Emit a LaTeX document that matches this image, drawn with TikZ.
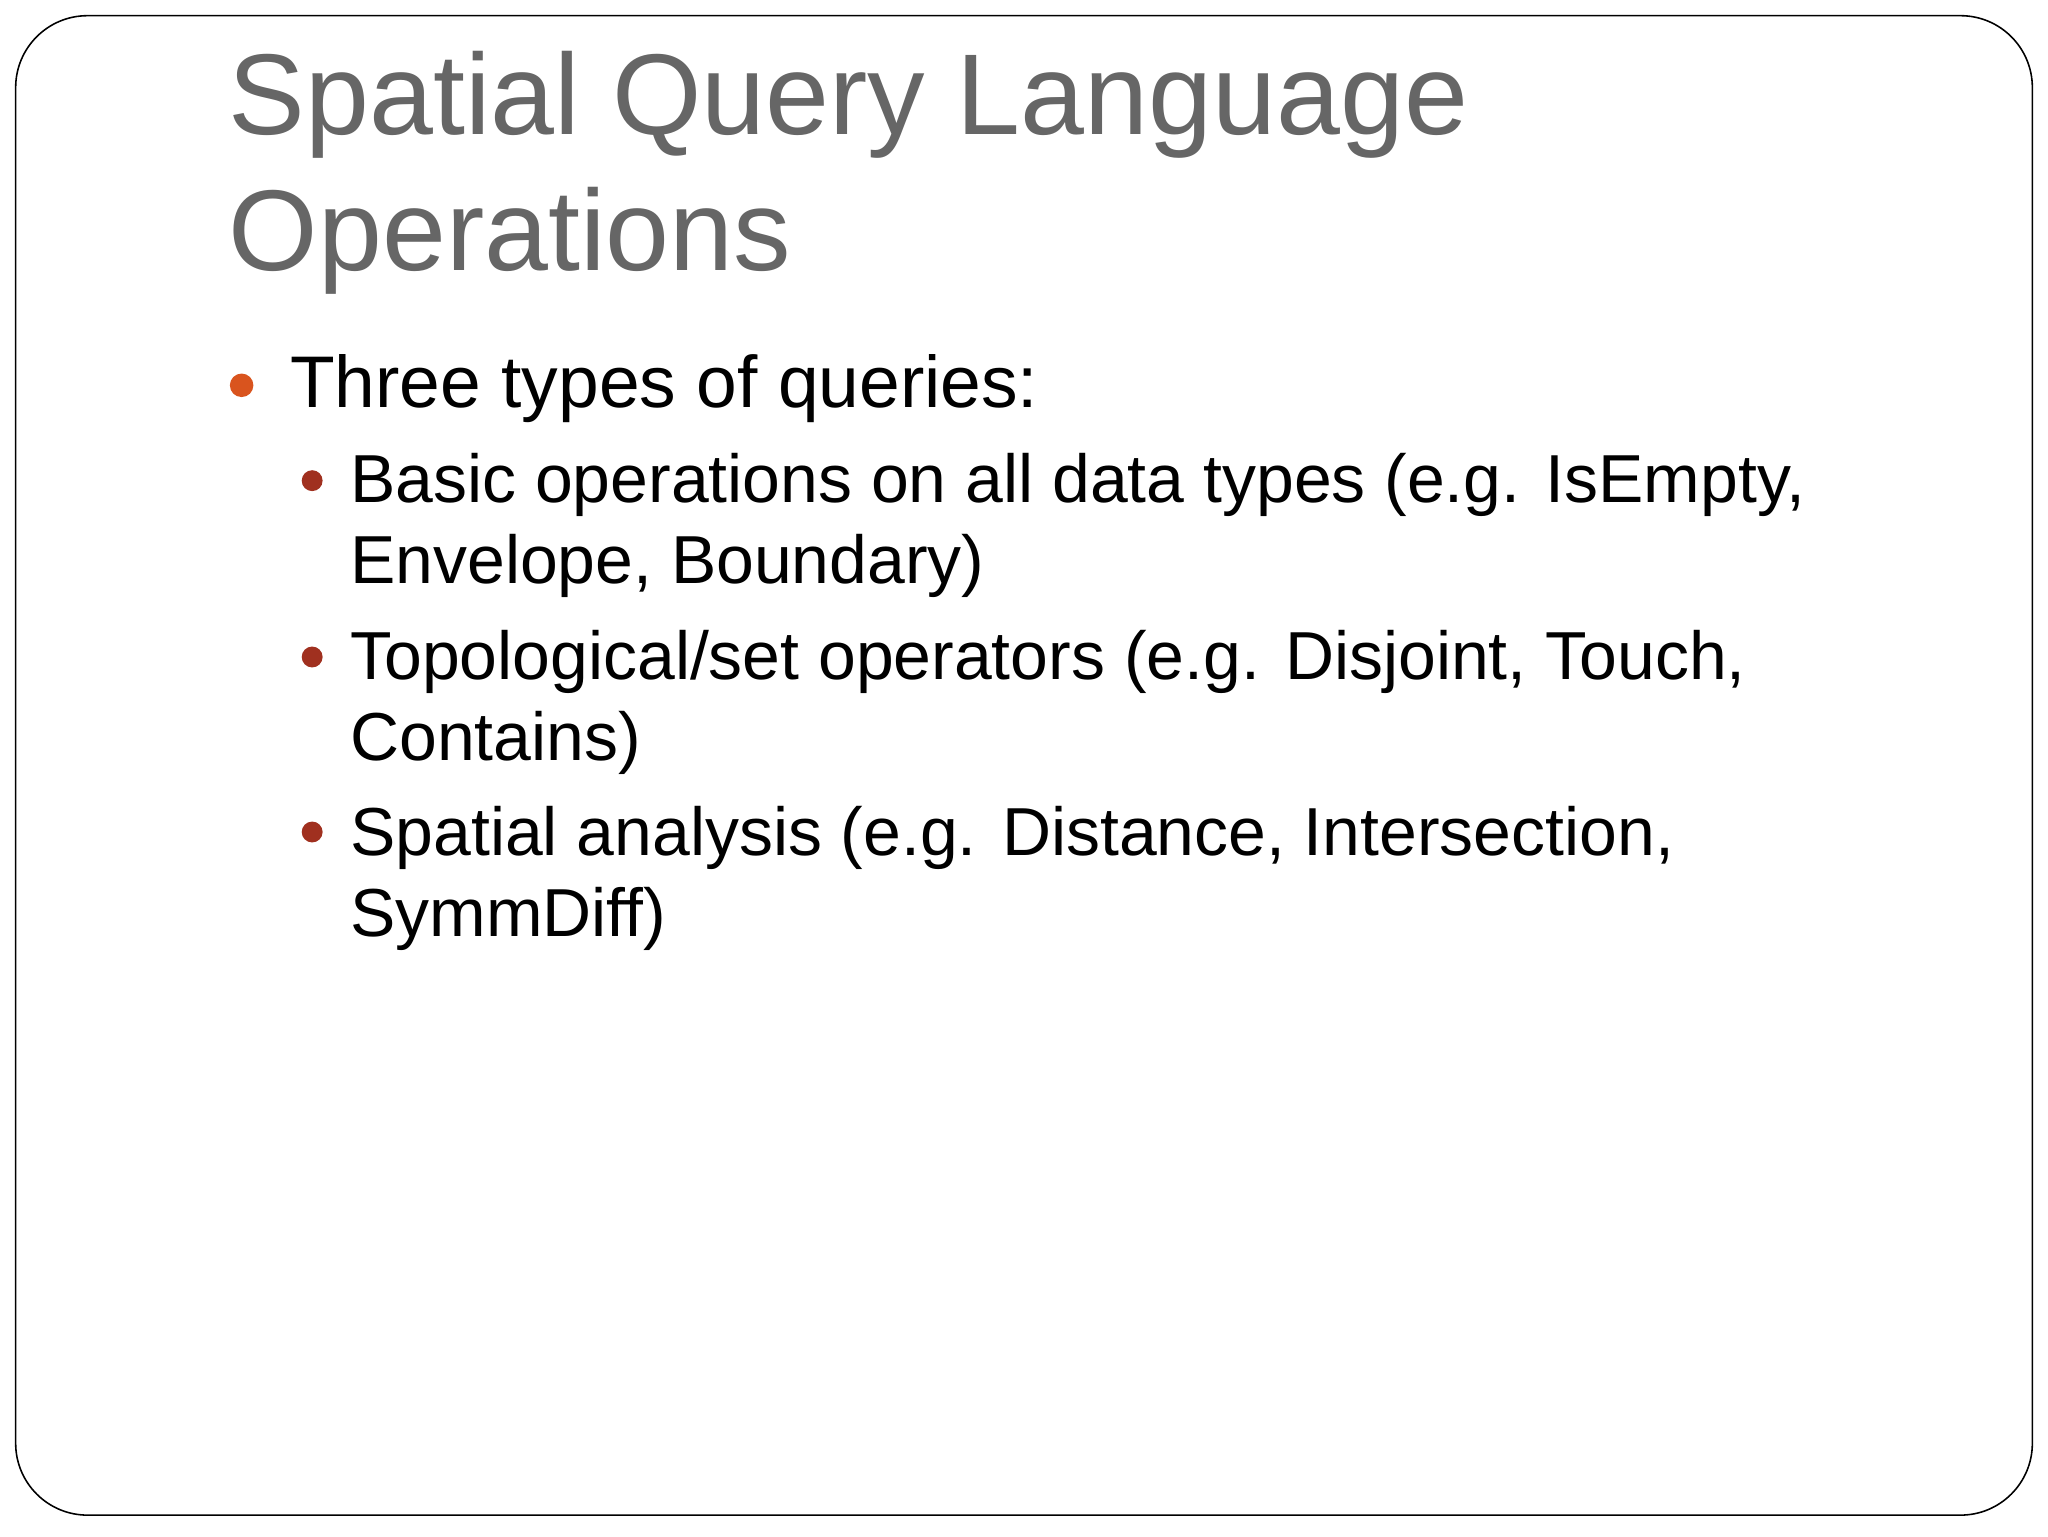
\documentclass[tikz,border=0pt]{standalone}
\usepackage{fontspec}
\setmainfont{Liberation Sans}
\definecolor{titlegray}{HTML}{666666}
\definecolor{bulA}{HTML}{D9541E}
\definecolor{bulB}{HTML}{A0301F}
\begin{document}
\begin{tikzpicture}[x=1pt,y=-1pt,
  title/.style={anchor=base west,inner sep=0,text=titlegray,font=\fontsize{88}{88}\selectfont},
  lone/.style={anchor=base west,inner sep=0,font=\fontsize{56}{56}\selectfont},
  ltwo/.style={anchor=base west,inner sep=0,font=\fontsize{52}{52}\selectfont}]
\useasboundingbox (0,0) rectangle (1568,1176);
\draw[line width=1.2pt,rounded corners=55] (12,12) rectangle (1556,1160);
\node[title] (t1) at (175,103) {Spatial Query Language};
\node[title] (t2) at (175,207) {Operations};
\fill[bulA] (185,295) circle (9) coordinate (b0);
\node[lone] (l0) at (222,312) {Three types of queries:};
\foreach \y/\n in {368/a,503/b,637/c} \fill[bulB] (239,\y) circle (8);
\node[ltwo] (a1) at (268,385) {Basic operations on all data types (e.g. IsEmpty,};
\node[ltwo] (a2) at (268,447) {Envelope, Boundary)};
\node[ltwo] (b1) at (268,520) {Topological/set operators (e.g. Disjoint, Touch,};
\node[ltwo] (b2) at (268,582) {Contains)};
\node[ltwo] (c1) at (268,655) {Spatial analysis (e.g. Distance, Intersection,};
\node[ltwo] (c2) at (268,717) {SymmDiff)};
\end{tikzpicture}
\end{document}
